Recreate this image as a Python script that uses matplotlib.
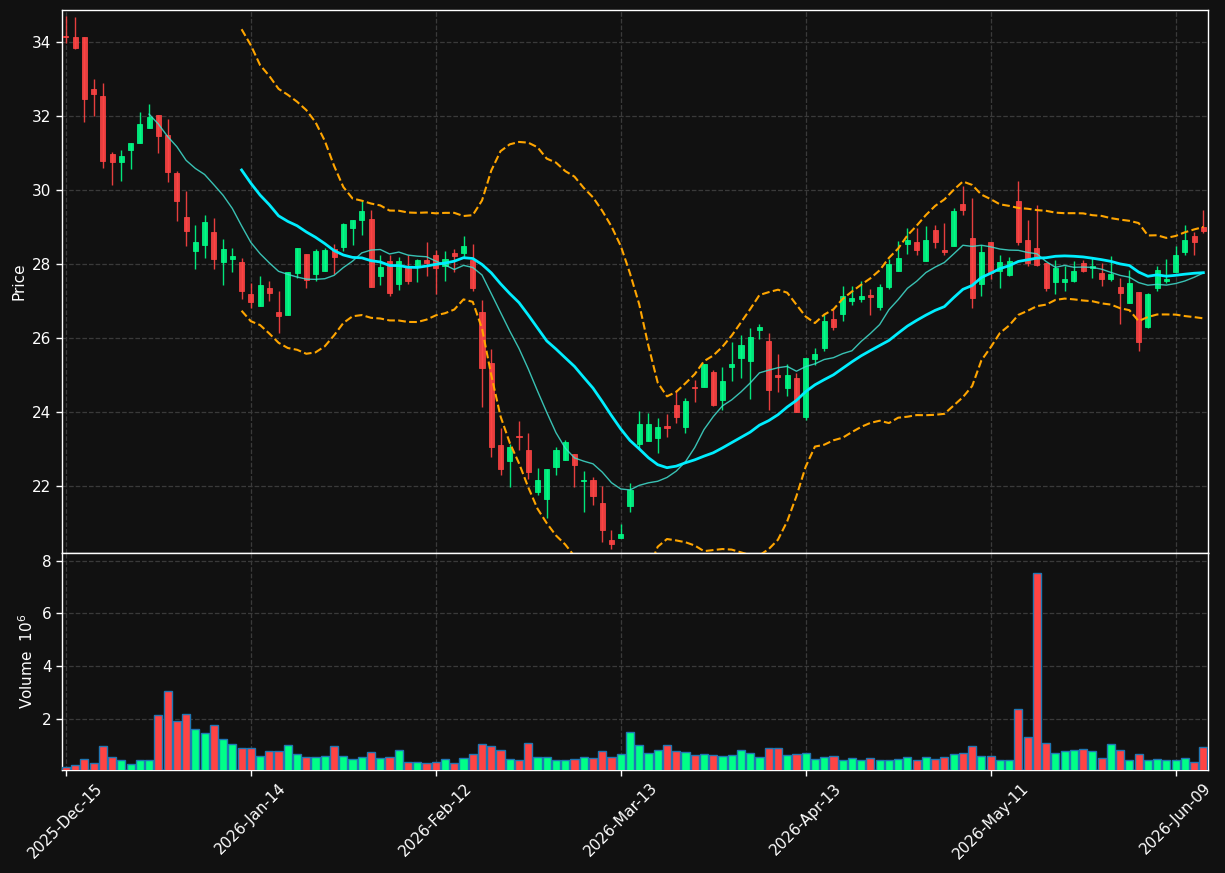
import matplotlib
matplotlib.use('Agg')
import matplotlib.pyplot as plt
import numpy as np
import pandas as pd

# ---------------- data ----------------
holidays = ['2025-12-25', '2026-01-01', '2026-01-19', '2026-02-16', '2026-04-03', '2026-05-25']
dates = pd.bdate_range('2025-12-15', '2026-06-12', freq='C', holidays=holidays)

opens = [34.16, 34.11, 34.11, 32.71, 32.53, 30.96, 30.76, 31.08, 31.26, 31.68,
         32.01, 31.47, 30.45, 29.26, 28.36, 28.52, 28.85, 28.06, 28.14, 28.05,
         27.18, 26.87, 27.34, 26.70, 26.62, 27.75, 28.26, 27.72, 27.81, 28.39,
         28.45, 28.98, 29.19, 29.21, 27.67, 28.08, 27.47, 27.91, 27.93, 28.10,
         28.23, 27.93, 28.29, 28.29, 28.11, 26.70, 25.32, 23.12, 22.68, 23.36,
         22.98, 21.85, 21.66, 22.53, 22.72, 22.86, 22.15, 22.17, 21.55, 20.55,
         20.61, 21.46, 23.14, 23.22, 23.31, 23.62, 24.20, 23.60, 24.68, 24.69,
         25.09, 24.34, 25.23, 25.45, 25.39, 26.22, 25.92, 25.00, 24.65, 24.91,
         23.86, 25.44, 25.72, 26.52, 26.64, 26.99, 27.06, 27.16, 26.85, 27.37,
         27.81, 28.54, 28.58, 28.09, 28.91, 28.38, 28.47, 29.61, 28.69, 27.47,
         28.59, 27.81, 27.70, 29.69, 28.64, 28.42, 28.02, 27.51, 27.50, 27.53,
         28.02, 27.90, 27.75, 27.60, 27.37, 26.94, 27.23, 26.29, 27.34, 27.53,
         27.78, 28.33, 28.75, 28.99]
highs = [34.70, 34.66, 34.11, 33.00, 32.89, 31.03, 31.06, 31.25, 32.11, 32.31,
         32.01, 31.92, 30.50, 29.96, 29.06, 29.31, 29.25, 28.68, 28.44, 28.17,
         27.48, 27.66, 27.55, 27.27, 27.77, 28.44, 28.26, 28.41, 28.44, 28.53,
         29.11, 29.18, 29.71, 29.46, 28.25, 28.23, 28.19, 28.23, 28.13, 28.58,
         28.38, 28.35, 28.41, 28.74, 28.55, 27.03, 25.70, 23.58, 23.13, 23.75,
         23.45, 22.50, 22.46, 23.05, 23.26, 22.86, 22.42, 22.26, 22.00, 20.81,
         20.99, 22.08, 24.02, 23.97, 23.83, 23.94, 24.60, 24.39, 24.88, 25.30,
         25.14, 25.21, 25.89, 26.07, 26.27, 26.39, 26.13, 25.56, 25.31, 25.05,
         25.45, 25.73, 26.66, 26.80, 27.41, 27.41, 27.55, 27.32, 27.46, 28.14,
         28.61, 28.98, 28.98, 29.01, 29.06, 29.11, 29.52, 30.09, 29.78, 28.50,
         28.59, 28.25, 28.19, 30.25, 29.19, 29.58, 28.02, 28.11, 27.93, 28.08,
         28.11, 28.17, 28.02, 28.21, 27.61, 27.83, 27.23, 27.21, 27.95, 28.14,
         28.47, 29.06, 28.86, 29.45]
lows = [33.95, 33.81, 31.82, 31.98, 30.58, 30.12, 30.25, 30.55, 31.26, 31.68,
        30.98, 30.22, 29.17, 28.47, 27.87, 28.17, 27.87, 27.42, 27.77, 27.06,
        26.81, 26.87, 27.00, 26.14, 26.62, 27.61, 27.36, 27.55, 27.81, 27.74,
        28.35, 28.50, 28.79, 27.37, 27.44, 27.13, 27.29, 27.47, 27.50, 27.66,
        27.18, 27.55, 27.77, 28.18, 27.28, 24.13, 22.80, 22.30, 21.97, 22.98,
        22.19, 21.77, 21.14, 22.30, 22.72, 21.97, 21.30, 21.49, 20.50, 20.31,
        20.61, 21.30, 23.03, 23.22, 22.89, 23.33, 23.72, 23.45, 24.27, 24.69,
        24.17, 24.06, 24.83, 24.93, 24.36, 25.96, 24.06, 24.55, 24.44, 24.00,
        23.80, 25.26, 25.66, 26.22, 26.47, 26.89, 26.97, 26.61, 26.76, 27.32,
        27.81, 28.28, 28.23, 28.09, 28.44, 28.23, 28.47, 29.31, 26.80, 27.14,
        27.60, 27.34, 27.67, 28.52, 27.93, 27.93, 27.28, 27.19, 27.28, 27.50,
        27.78, 27.63, 27.41, 27.55, 26.39, 26.94, 25.66, 26.27, 27.27, 27.48,
        27.78, 28.23, 28.25, 28.83]
closes = [34.12, 33.83, 32.45, 32.58, 30.78, 30.76, 30.91, 31.25, 31.77, 31.96,
          31.45, 30.48, 29.70, 28.89, 28.59, 29.13, 28.14, 28.41, 28.21, 27.28,
          26.98, 27.43, 27.22, 26.60, 27.77, 28.42, 27.57, 28.35, 28.38, 28.19,
          29.07, 29.18, 29.44, 27.37, 27.91, 27.22, 28.08, 27.53, 28.10, 28.03,
          27.90, 28.13, 28.22, 28.48, 27.34, 25.20, 23.05, 22.47, 23.06, 23.32,
          22.39, 22.17, 22.46, 22.98, 23.19, 22.56, 22.17, 21.75, 20.83, 20.45,
          20.71, 21.91, 23.69, 23.67, 23.61, 23.58, 23.88, 24.30, 24.64, 25.30,
          24.20, 24.83, 25.31, 25.80, 26.03, 26.31, 24.61, 24.95, 25.00, 24.00,
          25.45, 25.58, 26.47, 26.29, 27.13, 27.08, 27.13, 27.11, 27.39, 28.00,
          28.17, 28.64, 28.38, 28.64, 28.60, 28.33, 29.43, 29.45, 27.08, 28.31,
          27.75, 28.04, 28.09, 28.58, 28.03, 27.97, 27.34, 27.89, 27.60, 27.80,
          27.81, 27.95, 27.60, 27.72, 27.22, 27.48, 25.89, 27.18, 27.83, 27.60,
          28.23, 28.64, 28.59, 28.89]
volumes_m = [0.16, 0.24, 0.48, 0.33, 0.96, 0.56, 0.44, 0.29, 0.41, 0.41,
             2.15, 3.05, 1.92, 2.19, 1.62, 1.47, 1.77, 1.24, 1.05, 0.89,
             0.89, 0.58, 0.78, 0.78, 1.00, 0.67, 0.56, 0.56, 0.59, 0.96,
             0.59, 0.48, 0.56, 0.75, 0.52, 0.56, 0.82, 0.37, 0.37, 0.33,
             0.37, 0.48, 0.33, 0.52, 0.67, 1.05, 0.97, 0.82, 0.48, 0.44,
             1.09, 0.56, 0.56, 0.44, 0.44, 0.48, 0.56, 0.52, 0.78, 0.56,
             0.67, 1.51, 1.01, 0.71, 0.82, 1.01, 0.78, 0.75, 0.63, 0.67,
             0.63, 0.59, 0.63, 0.82, 0.71, 0.56, 0.90, 0.90, 0.63, 0.67,
             0.71, 0.48, 0.56, 0.59, 0.44, 0.52, 0.44, 0.52, 0.41, 0.41,
             0.48, 0.56, 0.44, 0.56, 0.48, 0.56, 0.67, 0.71, 0.97, 0.59,
             0.59, 0.44, 0.44, 2.38, 1.32, 7.54, 1.09, 0.71, 0.78, 0.82,
             0.86, 0.78, 0.52, 1.05, 0.82, 0.44, 0.67, 0.41, 0.48, 0.41,
             0.41, 0.52, 0.37, 0.94]

price_ticks = [22, 24, 26, 28, 30, 32, 34]
tick_every = 20

# ---------------- derived ----------------
df = pd.DataFrame({'Open': opens, 'High': highs, 'Low': lows, 'Close': closes,
                   'Volume': volumes_m}, index=dates[:len(opens)])
x = np.arange(len(df))
ma10 = df['Close'].rolling(10).mean()
ma20 = df['Close'].rolling(20).mean()
sd20 = df['Close'].rolling(20).std(ddof=0)
upper = ma20 + 2 * sd20
lower = ma20 - 2 * sd20
up = df['Close'] >= df['Open']

BG = '#111111'
UP = '#00ff88'
DN = '#ff4444'
GRID = '#3a3a3a'

fig = plt.figure(figsize=(12.25, 8.73), dpi=100, facecolor=BG)
axp = fig.add_axes([0.0506, 0.3666, 0.9355, 0.6219], facecolor=BG)
axv = fig.add_axes([0.0506, 0.1180, 0.9355, 0.2486], facecolor=BG, sharex=axp)

for ax in (axp, axv):
    for s in ax.spines.values():
        s.set_color('white')
        s.set_linewidth(1.0)
    ax.tick_params(colors='white', labelsize=11, width=1, length=4)
    ax.grid(True, color=GRID, linestyle='--', linewidth=0.9)
    ax.set_axisbelow(True)

# candles
cols = np.where(up, UP, DN)
body_lo = np.minimum(df['Open'], df['Close'])
body_h = np.abs(df['Close'] - df['Open'])
axp.vlines(x, df['Low'], df['High'], colors=cols, linewidth=1.0, alpha=0.9, zorder=2)
axp.bar(x, body_h, bottom=body_lo, width=0.55, color=cols, edgecolor=cols,
        linewidth=0.6, alpha=0.9, zorder=3)

# indicators
axp.plot(x, ma10, color='#40E0D0', linewidth=1.0, alpha=0.85, zorder=4)
axp.plot(x, ma20, color='#00EEFF', linewidth=2.0, zorder=4)
axp.plot(x, upper, color='#FFA500', linewidth=1.5, linestyle='--', zorder=4)
axp.plot(x, lower, color='#FFA500', linewidth=1.5, linestyle='--', zorder=4)

axp.set_ylim(20.2, 34.85)
axp.set_yticks(price_ticks)
axp.set_xlim(-0.42, len(df) - 0.5)
axp.set_ylabel('Price', color='white', fontsize=11)
plt.setp(axp.get_xticklabels(), visible=False)

# volume
axv.bar(x, df['Volume'], width=0.88, color=np.where(up, UP, DN),
        edgecolor='#1f77b4', linewidth=1.0, zorder=3)
axv.set_ylim(0.3 * min(volumes_m), 1.1 * max(volumes_m))
axv.set_yticks([2, 4, 6, 8])
axv.set_ylabel(r'Volume  $10^{6}$', color='white', fontsize=11)

ticks = list(range(0, len(df), tick_every))
axv.set_xticks(ticks)
axv.set_xticklabels([df.index[i].strftime('%Y-%b-%d') for i in ticks],
                    rotation=45, ha='center')

fig.savefig('out.png', dpi=100, facecolor=BG)
